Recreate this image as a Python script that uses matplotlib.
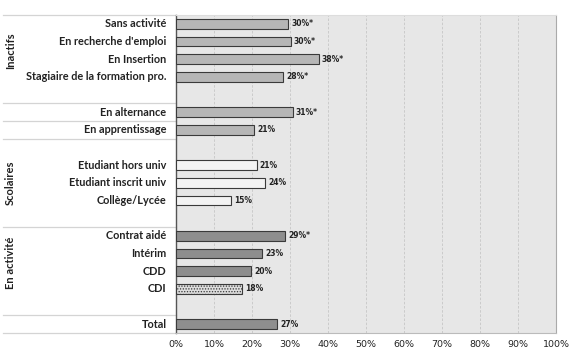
import numpy as np
import matplotlib.pyplot as plt
from matplotlib.transforms import blended_transform_factory

# categories (top to bottom), None = empty row between groups
categories = ['Sans activité', "En recherche d'emploi", 'En Insertion', 'Stagiaire de la formation pro.',
              None,
              'En alternance', 'En apprentissage',
              None,
              'Etudiant hors univ', 'Etudiant inscrit univ', 'Collège/Lycée',
              None,
              'Contrat aidé', 'Intérim', 'CDD', 'CDI',
              None,
              'Total']
values = [29.5, 30.2, 37.6, 28.2, None, 30.7, 20.5, None, 21.2, 23.4, 14.4, None,
          28.8, 22.6, 19.8, 17.5, None, 26.6]
value_labels = ['30%*', '30%*', '38%*', '28%*', None, '31%*', '21%', None, '21%', '24%', '15%', None,
                '29%*', '23%', '20%', '18%', None, '27%']
kinds = ['mid', 'mid', 'mid', 'mid', None, 'mid', 'mid', None, 'light', 'light', 'light', None,
         'dark', 'dark', 'dark', 'hatch', None, 'dark']
groups = [('Inactifs', 1.5), ('Scolaires', 9.0), ('En activité', 13.5)]
separators = [-0.5, 4.5, 5.5, 6.5, 11.5, 16.5, 17.5]
ticks = np.arange(0, 101, 10)

colors = {'mid': '#b6b6b6', 'light': '#f3f3f3', 'dark': '#8e8e8e', 'hatch': '#dcdcdc'}
plt.rcParams['hatch.color'] = '#8a8a8a'
plt.rcParams['hatch.linewidth'] = 0.6

fig = plt.figure(figsize=(5.74, 3.51), dpi=100)
ax = fig.add_axes([0.3066, 0.0513, 0.662, 0.906])
ax.set_facecolor('#e7e7e7')

for i, (cat, v, lab, k) in enumerate(zip(categories, values, value_labels, kinds)):
    if cat is None:
        continue
    ax.barh(i, v, height=0.56, color=colors[k], edgecolor='#3a3a3a', linewidth=0.8,
            hatch='......' if k == 'hatch' else None, zorder=3)
    ax.text(v + 0.8, i, lab, va='center', ha='left', fontsize=5.5, fontweight='bold',
            color='#222222', zorder=4)

ax.set_xlim(0, 100)
ax.set_ylim(17.5, -0.5)
ax.set_xticks(ticks)
ax.set_xticklabels([f'{t}%' for t in ticks], fontsize=6.8, color='#222222')
ax.tick_params(axis='x', length=0, pad=5)
ax.set_yticks([])
for t in ticks[1:-1]:
    ax.axvline(t, color='#c6c6c6', linestyle=(0, (3, 2)), linewidth=0.6, zorder=1)

ax.spines['left'].set_color('#555555')
ax.spines['left'].set_linewidth(1.0)
ax.spines['right'].set_color('#aaaaaa')
ax.spines['bottom'].set_color('#bbbbbb')
ax.spines['top'].set_color('#dddddd')

trans = blended_transform_factory(ax.transAxes, ax.transData)
for s in separators:
    ax.plot([-0.455, 0], [s, s], color='#d4d4d4', linewidth=0.9, transform=trans, clip_on=False)

for i, cat in enumerate(categories):
    if cat is None:
        continue
    ax.text(-0.025, i, cat, transform=trans, ha='right', va='center', fontsize=7.8,
            fontweight='bold', family='Lato', color='#222222')

for name, y in groups:
    ax.text(-0.435, y, name, transform=trans, ha='center', va='center', rotation=90,
            fontsize=8, fontweight='bold', family='Lato', color='#222222')

fig.savefig('out.png', dpi=100)
